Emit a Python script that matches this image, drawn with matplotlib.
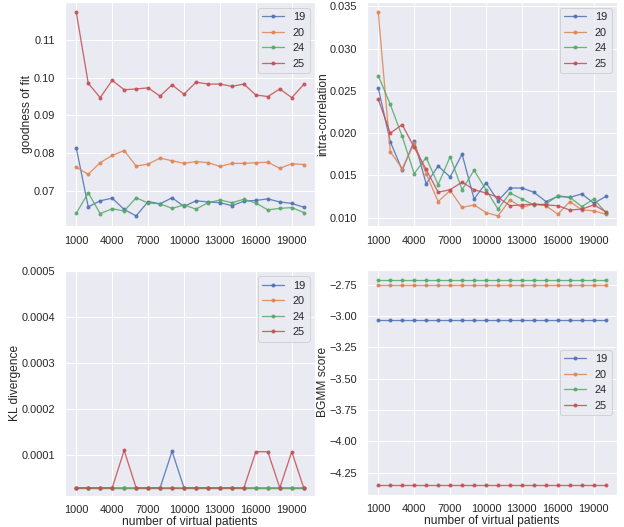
import numpy as np
import matplotlib
matplotlib.use('Agg')
import matplotlib.pyplot as plt
from matplotlib.ticker import MultipleLocator
import seaborn as sns

# number of virtual patients
n_patients = list(range(1000, 21000, 1000))
series = ['19', '20', '24', '25']

gof_19 = [0.0814, 0.0658, 0.0674, 0.0681, 0.0651, 0.0634, 0.0672, 0.0666, 0.0682, 0.0659,
          0.0674, 0.0671, 0.0669, 0.0661, 0.0673, 0.0675, 0.0679, 0.0671, 0.0667, 0.0657]
gof_20 = [0.0763, 0.0744, 0.0775, 0.0794, 0.0807, 0.0766, 0.0771, 0.0787, 0.0780, 0.0773,
          0.0778, 0.0775, 0.0765, 0.0773, 0.0773, 0.0775, 0.0776, 0.0760, 0.0772, 0.0770]
gof_24 = [0.0641, 0.0695, 0.0640, 0.0653, 0.0647, 0.0682, 0.0668, 0.0666, 0.0654, 0.0663,
          0.0652, 0.0669, 0.0676, 0.0669, 0.0678, 0.0668, 0.0650, 0.0654, 0.0656, 0.0643]
gof_25 = [0.1173, 0.0985, 0.0947, 0.0993, 0.0968, 0.0970, 0.0973, 0.0951, 0.0981, 0.0956,
          0.0988, 0.0983, 0.0983, 0.0977, 0.0983, 0.0954, 0.0950, 0.0970, 0.0947, 0.0982]

ic_19 = [0.0253, 0.0190, 0.0156, 0.0191, 0.0140, 0.0161, 0.0148, 0.0175, 0.0122, 0.0141,
         0.0120, 0.0135, 0.0135, 0.0130, 0.0119, 0.0125, 0.0124, 0.0128, 0.0117, 0.0125]
ic_20 = [0.0343, 0.0178, 0.0158, 0.0188, 0.0152, 0.0119, 0.0132, 0.0112, 0.0115, 0.0106,
         0.0102, 0.0121, 0.0112, 0.0116, 0.0114, 0.0104, 0.0119, 0.0109, 0.0108, 0.0104]
ic_24 = [0.0268, 0.0234, 0.0196, 0.0152, 0.0171, 0.0139, 0.0172, 0.0133, 0.0156, 0.0133,
         0.0110, 0.0129, 0.0122, 0.0115, 0.0116, 0.0126, 0.0124, 0.0113, 0.0122, 0.0106]
ic_25 = [0.0240, 0.0200, 0.0210, 0.0183, 0.0157, 0.0130, 0.0133, 0.0142, 0.0133, 0.0129,
         0.0124, 0.0114, 0.0115, 0.0116, 0.0115, 0.0114, 0.0109, 0.0110, 0.0115, 0.0107]

kl_base = 0.0000283
kl_19 = [kl_base] * 20
kl_19[8] = 0.000108
kl_20 = [kl_base] * 20
kl_24 = [kl_base] * 20
kl_25 = [kl_base] * 20
kl_25[4] = 0.000110
kl_25[15] = 0.000107
kl_25[16] = 0.000107
kl_25[18] = 0.000107

bgmm_19 = [-3.033] * 20
bgmm_20 = [-2.752] * 20
bgmm_24 = [-2.713] * 20
bgmm_25 = [-4.346] * 20

xticks = list(range(1000, 20001, 3000))


def draw(ax, data, ylabel, xlabel=None, legend_loc='upper right'):
    for name, vals in zip(series, data):
        ax.plot(n_patients, vals, marker='.', linewidth=1.3, markersize=6,
                alpha=0.85, label=name)
    ax.set_xticks(xticks)
    ax.set_ylabel(ylabel, labelpad=1)
    if xlabel:
        ax.set_xlabel(xlabel, labelpad=1)
    ax.legend(loc=legend_loc)


def main():
    sns.set_theme(style='darkgrid')
    plt.rcParams['font.family'] = ['Liberation Sans', 'DejaVu Sans']

    fig = plt.figure(figsize=(624 / 72, 527 / 72), dpi=72)
    ax1 = fig.add_axes([0.104, 0.571, 0.401, 0.425])
    ax2 = fig.add_axes([0.588, 0.571, 0.401, 0.425])
    ax3 = fig.add_axes([0.104, 0.059, 0.401, 0.427])
    ax4 = fig.add_axes([0.588, 0.061, 0.401, 0.427])

    draw(ax1, [gof_19, gof_20, gof_24, gof_25], 'goodness of fit')
    draw(ax2, [ic_19, ic_20, ic_24, ic_25], 'intra-correlation')
    draw(ax3, [kl_19, kl_20, kl_24, kl_25], 'KL divergence', 'number of virtual patients')
    ax3.set_ylim(0.000011, 0.0005)
    draw(ax4, [bgmm_19, bgmm_20, bgmm_24, bgmm_25], 'BGMM score',
         'number of virtual patients', legend_loc='center right')
    ax4.yaxis.set_major_locator(MultipleLocator(0.25))

    fig.savefig('out.png', dpi=72)


if __name__ == "__main__":
    main()
